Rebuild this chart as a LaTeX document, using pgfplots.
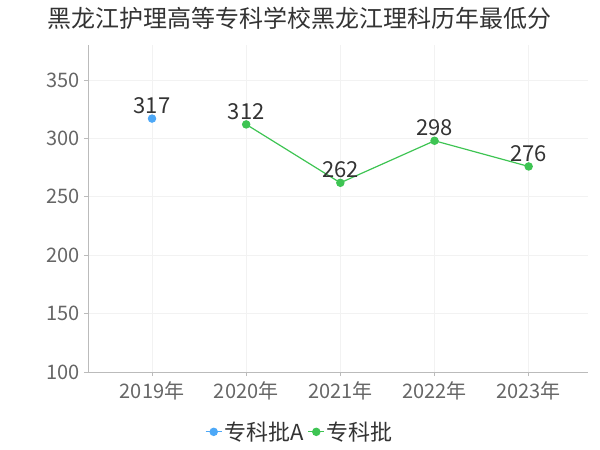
\documentclass[border=0pt]{standalone}
\usepackage{fontspec}
\setmainfont{Noto Sans CJK SC}
\usepackage{pgfplots}
\pgfplotsset{compat=1.18}
\definecolor{blueA}{HTML}{4DA8F7}
\definecolor{greenB}{HTML}{3EC453}
\definecolor{ticktxt}{HTML}{666666}
\definecolor{labtxt}{HTML}{333333}
\definecolor{gridc}{HTML}{F2F2F2}
\definecolor{axisc}{HTML}{BBBBBB}

\begin{document}
\begin{tikzpicture}[x=1pt,y=1pt]
\useasboundingbox (-88,-78) rectangle (512,372);
\begin{axis}[
  scale only axis,
  width=500pt, height=327pt,
  at={(0,0)}, anchor=south west,
  xmin=-0.68, xmax=4.63,
  ymin=100, ymax=380,
  xtick={0,1,2,3,4},
  xticklabels={2019年,2020年,2021年,2022年,2023年},
  ytick={100,150,200,250,300,350},
  axis x line*=bottom, axis y line*=left,
  axis line style={axisc, line width=0.8pt},
  every tick/.style={axisc, line width=0.8pt},
  tick align=outside, major tick length=4pt,
  grid=major, major grid style={gridc, line width=0.8pt},
  /pgf/number format/assume math mode=true,
  tick label style={font=\fontsize{20}{24}\selectfont, text=ticktxt},
  yticklabel style={xshift=-1pt},
  xticklabel style={yshift=-2pt},
  nodes near coords,
  every node near coord/.append style={font=\fontsize{22}{26}\selectfont, text=labtxt, anchor=south, yshift=1pt},
  legend columns=-1,
  legend style={at={(0.424,-0.183)}, anchor=center, draw=none, fill=none,
    font=\fontsize{22}{26}\selectfont, text=labtxt,
    /tikz/every even column/.append style={column sep=2pt}},
  legend image code/.code={\draw[mark repeat=2,mark phase=2] plot coordinates {(0pt,0pt)(8pt,0pt)(16pt,0pt)};},
]
\addplot[blueA, line width=1.2pt, mark=*, mark size=3.6pt] coordinates {(0,317)};
\addplot[greenB, line width=1.2pt, mark=*, mark size=3.6pt] coordinates {(1,312) (2,262) (3,298) (4,276)};
\legend{专科批A, 专科批}
\end{axis}
\node[font=\fontsize{24}{28}\selectfont, text=labtxt] at (212,354) {黑龙江护理高等专科学校黑龙江理科历年最低分};
\end{tikzpicture}
\end{document}
